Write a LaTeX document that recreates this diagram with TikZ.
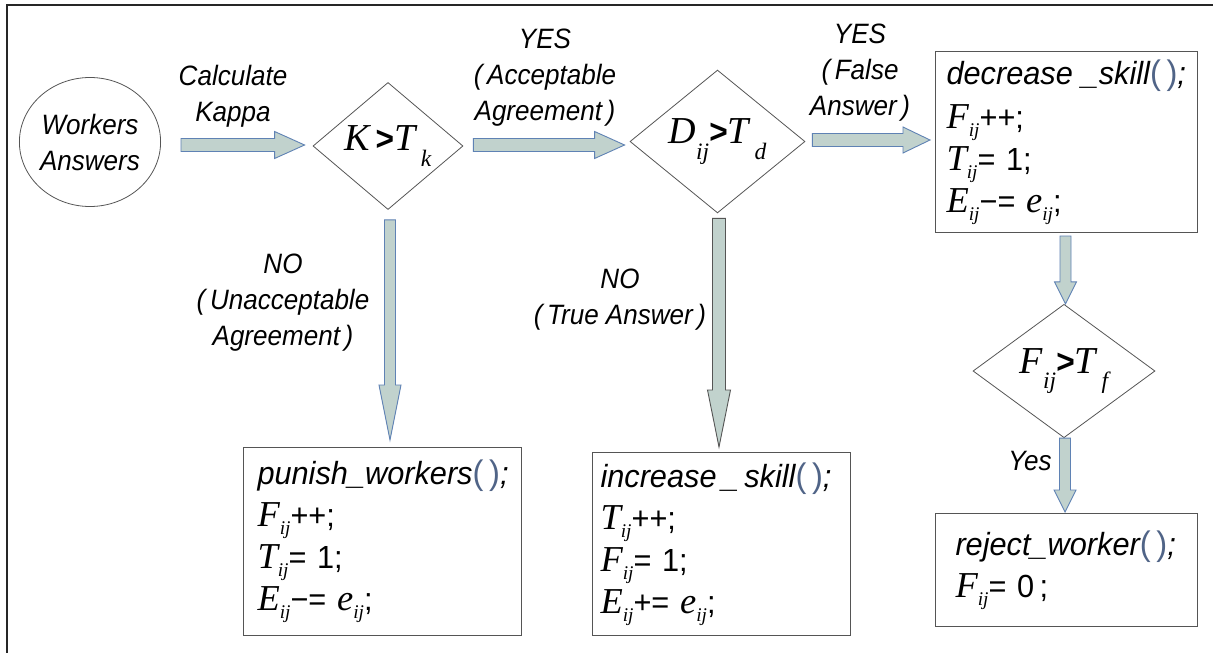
\documentclass[tikz,border=0pt]{standalone}
\usepackage{fontspec}
\setmainfont{Liberation Sans}
\newfontfamily\nsans{Liberation Sans}[FakeStretch=0.93]
\newfontfamily\bsans{Liberation Sans}[FakeStretch=0.96]
\newfontfamily\vfont{Liberation Serif}[Scale=1.12]
\newfontfamily\wfont{Liberation Serif}[Scale=1.14]
\usetikzlibrary{shapes.geometric,calc}
\definecolor{afill}{RGB}{193,210,205}
\definecolor{aedge}{RGB}{95,130,180}
\definecolor{gedge}{RGB}{85,85,85}
\definecolor{paren}{RGB}{80,100,135}
\newcommand{\V}[1]{{\vfont\itshape #1}}
\newcommand{\W}[1]{{\wfont\itshape #1}}
\newcommand{\Sb}[1]{\raisebox{-0.26em}{\fontsize{17}{17}\selectfont\wfont\itshape #1}}
\newcommand{\Sd}[1]{\raisebox{-0.45em}{\fontsize{21}{21}\selectfont\vfont\itshape #1}}
\newcommand{\U}[1]{{\upshape #1}}
\newcommand{\GT}{{\bfseries\upshape >}}
\newcommand{\PP}{{\upshape\color{paren}\fontsize{34}{34}\selectfont(\,)}}
\newcommand{\harrow}[6][]{\draw[barrow,#1] let \p1=(#2), \p2=(#3) in
  (\x1,\y1+#4) -- (\x2-#6,\y1+#4) -- (\x2-#6,\y1+#5) -- (\x2,\y1) --
  (\x2-#6,\y1-#5) -- (\x2-#6,\y1-#4) -- (\x1,\y1-#4) -- cycle;}
\newcommand{\varrow}[6][]{\draw[barrow,#1] let \p1=(#2), \p2=(#3) in
  (\x1-#4,\y1) -- (\x1-#4,\y2+#6) -- (\x1-#5,\y2+#6) -- (\x1,\y2) --
  (\x1+#5,\y2+#6) -- (\x1+#4,\y2+#6) -- (\x1+#4,\y1) -- cycle;}
\tikzset{
  lbl/.style={font=\nsans\itshape\fontsize{28}{36}\selectfont, align=center, inner sep=0pt},
  cond/.style={diamond, draw=gedge, line width=0.8pt, inner sep=0pt, font=\nsans\fontsize{34}{34}\selectfont},
  codebox/.style={draw=gedge, line width=1pt, align=left, anchor=north west, inner ysep=0pt,
    font=\bsans\itshape\fontsize{32}{42}\selectfont},
  barrow/.style={fill=afill, draw=aedge, line width=0.9pt, line join=miter},
}
\begin{document}
\begin{tikzpicture}[x=1pt,y=-1pt]
\useasboundingbox (0,0) rectangle (1213,653);
\fill[white] (0,0) rectangle (1213,653);
\draw[line width=2.6pt, black!85] (7,653) -- (7,5) -- (1213,5);

% nodes
\node[ellipse, draw=gedge, line width=0.8pt, minimum width=126pt, minimum height=129pt, inner sep=0pt, lbl] (w) at (90,142) {Workers\\Answers};
\node[cond, minimum width=150pt, minimum height=118pt] (k) at (388,146) {\V{K}\,\GT\V{T}\,\Sd{k}};
\node[cond, minimum width=175pt, minimum height=137pt] (d) at (717.5,141.5) {\V{D}\Sd{ij}\GT\V{T}\,\Sd{d}};
\node[cond, minimum width=182pt, minimum height=112pt] (f) at (1064,371) {\V{F}\Sd{ij}\GT\V{T}\,\Sd{f}};

\node[codebox, text width=240pt, inner xsep=11pt, minimum height=181pt] (dec) at (935,51)
  {\raisebox{2pt}{decrease\;\_skill\PP;}\\ \W{F}\Sb{ij}\U{++;}\\ \W{T}\Sb{ij}\U{= 1;}\\ \W{E}\Sb{ij}\U{−=} \W{e}\Sb{ij}\U{;}};
\node[codebox, text width=250pt, inner xsep=14pt, minimum height=188pt] (pun) at (243,447)
  {punish\_workers\PP;\\ \W{F}\Sb{ij}\U{++;}\\ \W{T}\Sb{ij}\U{= 1;}\\ \W{E}\Sb{ij}\U{−=} \W{e}\Sb{ij}\U{;}};
\node[codebox, text width=242pt, inner xsep=8pt, minimum height=183pt] (inc) at (592,452)
  {increase\,\_\,skill\PP;\\ \W{T}\Sb{ij}\U{++;}\\ \W{F}\Sb{ij}\U{= 1;}\\ \W{E}\Sb{ij}\U{+=} \W{e}\Sb{ij}\U{;}};
\node[codebox, text width=232pt, inner xsep=15pt, minimum height=113pt] (rej) at (935,513)
  {\hspace*{5pt}reject\_worker\PP;\\ \hspace*{5pt}\W{F}\Sb{ij}\U{= 0\,;}};

% labels
\node[lbl] (l1) at (233,96) {Calculate\\Kappa};
\node[lbl] (l2) at (545,78) {YES\\(\,Acceptable\\Agreement\,)};
\node[lbl] (l3) at (860,73) {YES\\(\,False\\Answer\,)};
\node[lbl] (l4) at (283,303) {NO\\(\,Unacceptable\\Agreement\,)};
\node[lbl] (l5) at (620,300) {NO\\(\,True Answer\,)};
\node[lbl] (l6) at (1030,461) {Yes};

% block arrows
\coordinate (a1s) at ($(w.east)+(20,3)$);
\coordinate (a1e) at ($(k.west)+(-8,0)$);
\harrow{a1s}{a1e}{6.5pt}{13.5pt}{30pt}
\coordinate (a2s) at ($(k.east)+(10,-1)$);
\coordinate (a2e) at ($(d.west)+(-5,0)$);
\harrow{a2s}{a2e}{6.5pt}{13.5pt}{30pt}
\coordinate (a3s) at ($(d.east)+(7,-1.5)$);
\coordinate (a3e) at ($(dec.west)+(-5,0)$);
\harrow{a3s}{a3e}{6.5pt}{13pt}{27pt}
\coordinate (a4s) at ($(k.south)+(2,10)$);
\coordinate (a4e) at ($(pun.north)+(0,-7)$);
\varrow{a4s}{a4e}{5.5pt}{11pt}{55pt}
\coordinate (a5s) at ($(d.south)+(1.5,5)$);
\coordinate (a5e) at ($(inc.north)+(0,-5)$);
\varrow[draw=gedge]{a5s}{a5e}{6.5pt}{11.5pt}{57pt}
\coordinate (a6s) at ($(dec.south)+(-1,3)$);
\coordinate (a6e) at ($(f.north)+(0,0)$);
\varrow{a6s}{a6e}{5.5pt}{11pt}{22pt}
\coordinate (a7s) at ($(f.south)+(1,0)$);
\coordinate (a7e) at ($(rej.north)+(0,-1)$);
\varrow{a7s}{a7e}{5.5pt}{11pt}{22pt}
\end{tikzpicture}
\end{document}
